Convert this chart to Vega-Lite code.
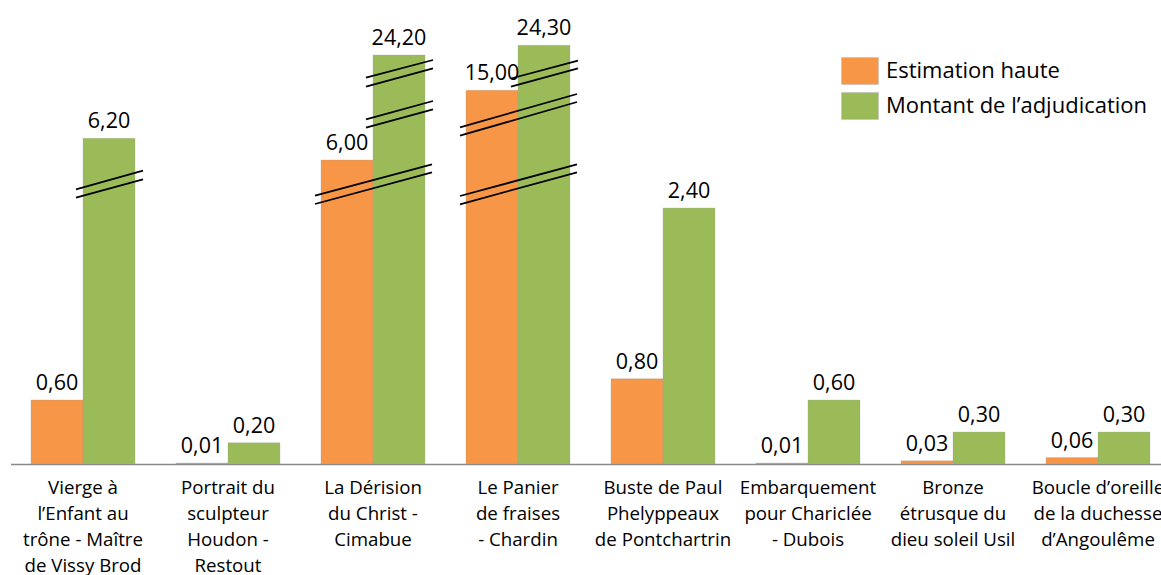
{
  "$schema": "https://vega.github.io/schema/vega-lite/v6.json",
  "width": 1160,
  "height": 464,
  "autosize": "none",
  "padding": {"left": 10.5, "top": 0, "right": 0, "bottom": 111},
  "background": "white",
  "config": {
    "view": {"stroke": null},
    "locale": {"number": {"decimal": ",", "thousands": " ", "grouping": [3], "currency": ["", " €"]}},
    "axis": {"grid": false}
  },
  "datasets": {
    "bars": [
      {"item": "Vierge à|l’Enfant au|trône - Maître|de Vissy Brod", "series": "Estimation haute", "value": 0.60},
      {"item": "Vierge à|l’Enfant au|trône - Maître|de Vissy Brod", "series": "Montant de l’adjudication", "value": 6.20},
      {"item": "Portrait du|sculpteur|Houdon -|Restout", "series": "Estimation haute", "value": 0.01},
      {"item": "Portrait du|sculpteur|Houdon -|Restout", "series": "Montant de l’adjudication", "value": 0.20},
      {"item": "La Dérision|du Christ -|Cimabue", "series": "Estimation haute", "value": 6.00},
      {"item": "La Dérision|du Christ -|Cimabue", "series": "Montant de l’adjudication", "value": 24.20},
      {"item": "Le Panier|de fraises|- Chardin", "series": "Estimation haute", "value": 15.00},
      {"item": "Le Panier|de fraises|- Chardin", "series": "Montant de l’adjudication", "value": 24.30},
      {"item": "Buste de Paul|Phelyppeaux|de Pontchartrin", "series": "Estimation haute", "value": 0.80},
      {"item": "Buste de Paul|Phelyppeaux|de Pontchartrin", "series": "Montant de l’adjudication", "value": 2.40},
      {"item": "Embarquement|pour Chariclée|- Dubois", "series": "Estimation haute", "value": 0.01},
      {"item": "Embarquement|pour Chariclée|- Dubois", "series": "Montant de l’adjudication", "value": 0.60},
      {"item": "Bronze|étrusque du|dieu soleil Usil", "series": "Estimation haute", "value": 0.03},
      {"item": "Bronze|étrusque du|dieu soleil Usil", "series": "Montant de l’adjudication", "value": 0.30},
      {"item": "Boucle d’oreille|de la duchesse|d’Angoulême", "series": "Estimation haute", "value": 0.06},
      {"item": "Boucle d’oreille|de la duchesse|d’Angoulême", "series": "Montant de l’adjudication", "value": 0.30}
    ],
    "breaks": [
      {"item": "Vierge à|l’Enfant au|trône - Maître|de Vissy Brod", "kind": "green", "yl": 3.8025, "yr": 5.1975},
      {"item": "Vierge à|l’Enfant au|trône - Maître|de Vissy Brod", "kind": "green", "yl": 3.1725, "yr": 4.5525},
      {"item": "La Dérision|du Christ -|Cimabue", "kind": "full", "yl": 3.3225, "yr": 5.6775},
      {"item": "La Dérision|du Christ -|Cimabue", "kind": "full", "yl": 2.7, "yr": 5.0775},
      {"item": "La Dérision|du Christ -|Cimabue", "kind": "green", "yl": 9.683, "yr": 13.038},
      {"item": "La Dérision|du Christ -|Cimabue", "kind": "green", "yl": 8.143, "yr": 11.517},
      {"item": "La Dérision|du Christ -|Cimabue", "kind": "green", "yl": 18.284, "yr": 22.897},
      {"item": "La Dérision|du Christ -|Cimabue", "kind": "green", "yl": 15.938, "yr": 20.734},
      {"item": "Le Panier|de fraises|- Chardin", "kind": "full", "yl": 3.3, "yr": 5.6775},
      {"item": "Le Panier|de fraises|- Chardin", "kind": "full", "yl": 2.6775, "yr": 5.0775},
      {"item": "Le Panier|de fraises|- Chardin", "kind": "full", "yl": 8.2167, "yr": 14.322},
      {"item": "Le Panier|de fraises|- Chardin", "kind": "full", "yl": 6.677, "yr": 12.855},
      {"item": "Le Panier|de fraises|- Chardin", "kind": "green", "yl": 18.075, "yr": 22.714},
      {"item": "Le Panier|de fraises|- Chardin", "kind": "green", "yl": 15.938, "yr": 20.734}
    ]
  },
  "layer": [
    {
      "data": {"name": "bars"},
      "mark": {"type": "bar", "stroke": "#a6a6a6", "strokeWidth": 0.5, "strokeOpacity": 0.6},
      "encoding": {
        "x": {
          "field": "item", "type": "nominal",
          "scale": {
            "domain": [
              "Vierge à|l’Enfant au|trône - Maître|de Vissy Brod",
              "Portrait du|sculpteur|Houdon -|Restout",
              "La Dérision|du Christ -|Cimabue",
              "Le Panier|de fraises|- Chardin",
              "Buste de Paul|Phelyppeaux|de Pontchartrin",
              "Embarquement|pour Chariclée|- Dubois",
              "Bronze|étrusque du|dieu soleil Usil",
              "Boucle d’oreille|de la duchesse|d’Angoulême"
            ],
            "paddingInner": 0.28276,
            "paddingOuter": 0.14138
          },
          "axis": {
            "title": null, "ticks": false, "domainColor": "#898989", "domainWidth": 1.3,
            "labelFont": "Open Sans", "labelFontSize": 18.7, "labelColor": "#000000",
            "labelLineHeight": 26, "labelPadding": 14, "labelLimit": 0,
            "labelOverlap": false, "labelBound": false, "labelFlush": false, "labelAngle": 0,
            "labelExpr": "split(datum.label, '|')"
          }
        },
        "xOffset": {"field": "series", "type": "nominal", "scale": {"domain": ["Estimation haute", "Montant de l’adjudication"]}},
        "y": {
          "field": "value", "type": "quantitative", "axis": null,
          "scale": {"domain": [0, 2.4, 6, 6.2, 15, 24.2, 24.3], "range": [464, 208, 160, 138.3, 90.3, 55, 45.3], "nice": false, "zero": false}
        },
        "color": {
          "field": "series", "type": "nominal",
          "scale": {"domain": ["Estimation haute", "Montant de l’adjudication"], "range": ["#F79646", "#9BBB59"]},
          "legend": {
            "title": null, "orient": "none", "legendX": 830.5, "legendY": 52, "padding": 0,
            "symbolType": "M-1,-0.73H1V0.73H-1Z", "symbolSize": 1369,
            "symbolStrokeColor": "#bfbfbf", "symbolStrokeWidth": 0.6,
            "labelFont": "Open Sans", "labelFontSize": 22, "labelColor": "#000000",
            "labelOffset": 7, "rowPadding": 1, "labelLimit": 0
          }
        }
      }
    },
    {
      "data": {"name": "bars"},
      "mark": {"type": "text", "font": "Open Sans", "fontSize": 21.5, "color": "#000000", "baseline": "alphabetic", "dy": -10},
      "encoding": {
        "x": {"field": "item", "type": "nominal"},
        "xOffset": {"field": "series", "type": "nominal"},
        "y": {"field": "value", "type": "quantitative"},
        "text": {"field": "value", "type": "quantitative", "format": ".2f"}
      }
    },
    {
      "data": {"name": "breaks"},
      "transform": [{"filter": "datum.kind == 'full'"}],
      "mark": {"type": "rule", "color": "#000000", "strokeWidth": 1.8, "xOffset": -6, "x2Offset": 7},
      "encoding": {
        "x": {"field": "item", "type": "nominal", "bandPosition": 0},
        "x2": {"field": "item", "bandPosition": 1},
        "y": {"field": "yl", "type": "quantitative"},
        "y2": {"field": "yr"}
      }
    },
    {
      "data": {"name": "breaks"},
      "transform": [{"filter": "datum.kind == 'green'"}],
      "mark": {"type": "rule", "color": "#000000", "strokeWidth": 1.8, "xOffset": -7, "x2Offset": 8},
      "encoding": {
        "x": {"field": "item", "type": "nominal", "bandPosition": 0.5},
        "x2": {"field": "item", "bandPosition": 1},
        "y": {"field": "yl", "type": "quantitative"},
        "y2": {"field": "yr"}
      }
    }
  ]
}
